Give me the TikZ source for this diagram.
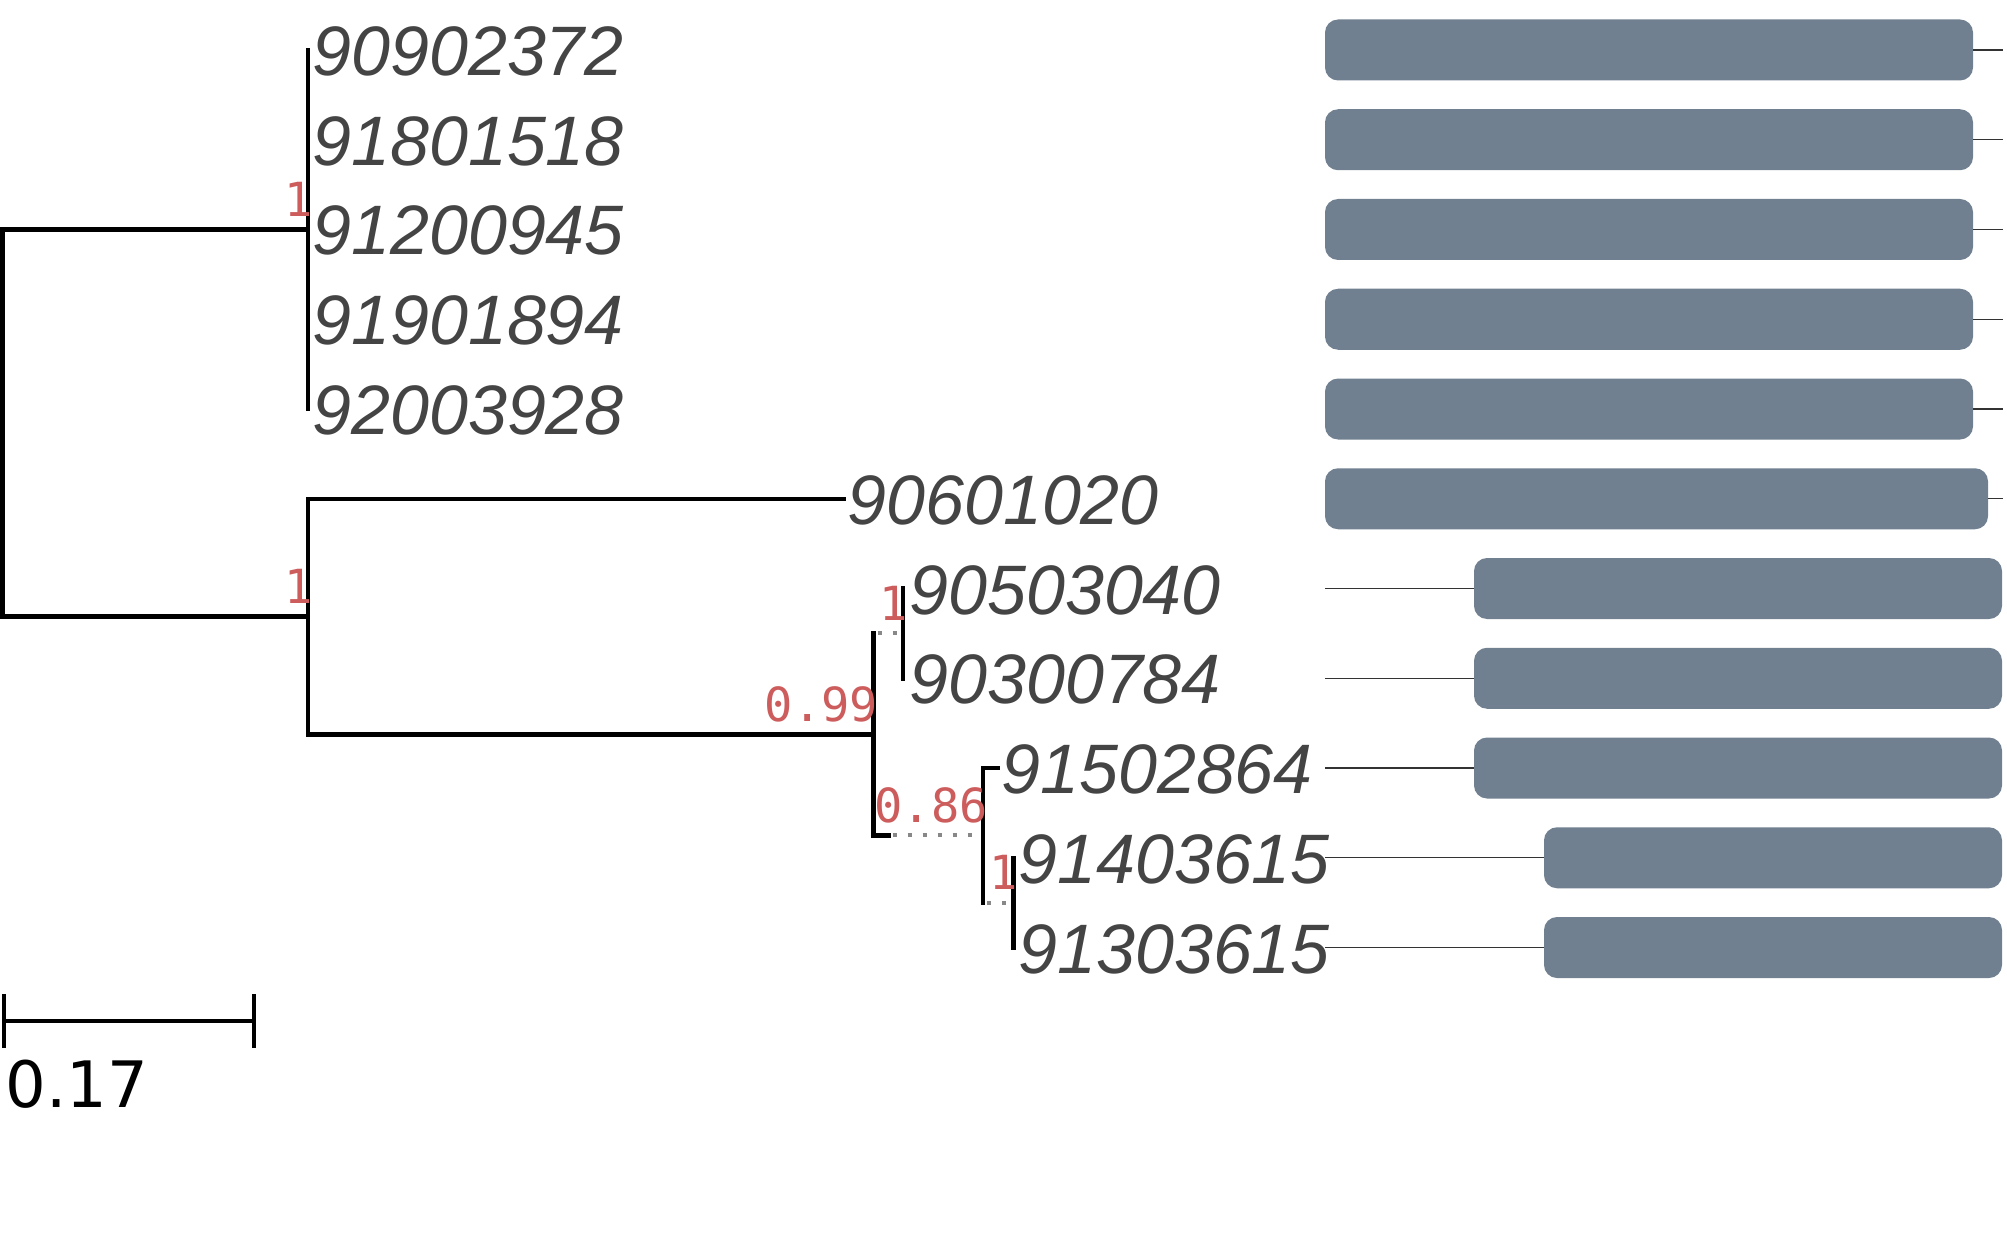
\documentclass[tikz,border=0pt]{standalone}
\usepackage{fontspec}
\newfontfamily\leaffnt{Liberation Sans}
\newfontfamily\supfnt{DejaVu Sans Mono}
\newfontfamily\barfnt{DejaVu Sans}
\definecolor{slate}{RGB}{112,128,144}
\definecolor{leafgray}{RGB}{68,68,68}
\definecolor{supred}{RGB}{205,92,92}
\definecolor{dotgray}{RGB}{136,136,136}
\begin{document}
\begin{tikzpicture}[x=0.5pt,y=-0.5pt,
  branch/.style={line width=2.25pt, black, line cap=rect},
  ext/.style={line width=2pt, dotgray, dash pattern=on 2pt off 5.5pt, dash phase=5.5pt},
  leaf/.style={anchor=base west, inner sep=0pt, text=leafgray, font=\leaffnt\itshape\fontsize{35pt}{40pt}\selectfont},
  sup/.style={anchor=base east, inner sep=0pt, text=supred, font=\supfnt\fontsize{23.5pt}{27pt}\selectfont},
  seqbox/.style={rectangle, rounded corners=6.5pt, fill=slate, draw=none, inner sep=0pt, outer sep=0pt, minimum height=30.5pt},
  guide/.style={line width=0.65pt, black!80}]
\path[use as bounding box, fill=white] (0,0) rectangle (2007,1246);

% tree nodes
\coordinate (root) at (2.3,423);
\coordinate (A) at (308,229.5);
\coordinate (B) at (308,616.6);
\coordinate (C) at (873.5,734.4);
\coordinate (D) at (903,633.4);
\coordinate (E) at (983,835.3);
\coordinate (F) at (1013.5,902.6);
% leaf tips
\coordinate (p1) at (308,50);
\coordinate (p2) at (308,139.75);
\coordinate (p3) at (308,229.5);
\coordinate (p4) at (308,319.25);
\coordinate (p5) at (308,409);
\coordinate (p6) at (844,498.75);
\coordinate (p7) at (903,588.5);
\coordinate (p8) at (903,678.25);
\coordinate (p9) at (998,768);
\coordinate (p10) at (1013.5,857.75);
\coordinate (p11) at (1013.5,947.5);

% branches
\draw[branch] (root |- A) -- (root |- B);
\draw[branch] (root |- A) -- (A);
\draw[branch] (root |- B) -- (B);
\draw[branch] (p1) -- (p5);
\draw[branch] (B |- p6) -- (B |- C);
\draw[branch] (B |- p6) -- (p6);
\draw[branch] (B |- C) -- (C);
\draw[branch] (C |- D) -- (C |- E);
\draw[ext] (C |- D) -- (D);
\draw[branch] (C |- E) -- ++(15,0) coordinate (Cx);
\draw[ext] (Cx) -- (E);
\draw[branch] (p7) -- (p8);
\draw[branch] (E |- p9) -- (E |- F);
\draw[branch] (E |- p9) -- (p9);
\draw[ext] (E |- F) -- (F);
\draw[branch] (p10) -- (p11);

% support values
\node[sup] (sA) at (313,216.5) {1};
\node[sup] (sB) at (313,603.6) {1};
\node[sup] (sC) at (878.5,721.4) {0.99};
\node[sup] (sD) at (908,620.4) {1};
\node[sup] (sE) at (988,822.3) {0.86};
\node[sup] (sF) at (1018.5,889.6) {1};

% leaf names
\node[leaf] (t1) at (312,75.5) {90902372};
\node[leaf] (t2) at (312,165.25) {91801518};
\node[leaf] (t3) at (312,255) {91200945};
\node[leaf] (t4) at (312,344.75) {91901894};
\node[leaf] (t5) at (312,434.5) {92003928};
\node[leaf] (t6) at (847,524.25) {90601020};
\node[leaf] (t7) at (909,614) {90503040};
\node[leaf] (t8) at (909,703.75) {90300784};
\node[leaf] (t9) at (1001,793.5) {91502864};
\node[leaf] (t10) at (1018,883.25) {91403615};
\node[leaf] (t11) at (1018,973) {91303615};

% sequence boxes
\node[seqbox, minimum width=324pt] (b1) at (1649,50) {};
\node[seqbox, minimum width=324pt] (b2) at (1649,139.75) {};
\node[seqbox, minimum width=324pt] (b3) at (1649,229.5) {};
\node[seqbox, minimum width=324pt] (b4) at (1649,319.25) {};
\node[seqbox, minimum width=324pt] (b5) at (1649,409) {};
\node[seqbox, minimum width=331.5pt] (b6) at (1656.5,498.75) {};
\node[seqbox, minimum width=264pt] (b7) at (1738,588.5) {};
\node[seqbox, minimum width=264pt] (b8) at (1738,678.25) {};
\node[seqbox, minimum width=264pt] (b9) at (1738,768) {};
\node[seqbox, minimum width=229pt] (b10) at (1773,857.75) {};
\node[seqbox, minimum width=229pt] (b11) at (1773,947.5) {};

% guide lines
\coordinate (g1) at (2003,50);
\coordinate (g2) at (2003,139.75);
\coordinate (g3) at (2003,229.5);
\coordinate (g4) at (2003,319.25);
\coordinate (g5) at (2003,409);
\coordinate (g6) at (2003,498.75);
\coordinate (h7) at (1325,588.5);
\coordinate (h8) at (1325,678.25);
\coordinate (h9) at (1325,768);
\coordinate (h10) at (1325,857.75);
\coordinate (h11) at (1325,947.5);
\draw[guide] (b1.east) -- (g1);
\draw[guide] (b2.east) -- (g2);
\draw[guide] (b3.east) -- (g3);
\draw[guide] (b4.east) -- (g4);
\draw[guide] (b5.east) -- (g5);
\draw[guide] (b6.east) -- (g6);
\draw[guide] (h7) -- (b7.west);
\draw[guide] (h8) -- (b8.west);
\draw[guide] (h9) -- (b9.west);
\draw[guide] (h10) -- (b10.west);
\draw[guide] (h11) -- (b11.west);

% scale bar
\coordinate (sbL) at (4,1021);
\coordinate (sbR) at (254,1021);
\draw[line width=2.25pt] (sbL) -- (sbR);
\draw[line width=2.25pt] ([yshift=13.5pt]sbL) -- ([yshift=-13.5pt]sbL);
\draw[line width=2.25pt] ([yshift=13.5pt]sbR) -- ([yshift=-13.5pt]sbR);
\node[anchor=base west, inner sep=0pt, font=\barfnt\fontsize{32pt}{36pt}\selectfont] (sbt) at (5,1107) {0.17};
\end{tikzpicture}
\end{document}
